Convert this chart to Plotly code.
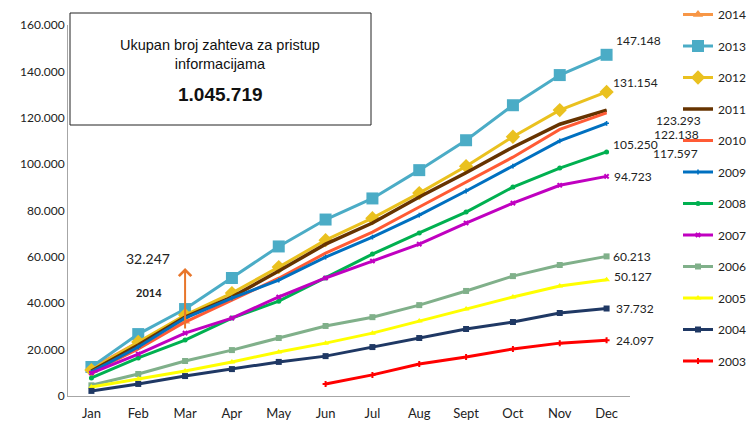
import plotly.graph_objects as go

# Data
MONTHS = ["Jan", "Feb", "Mar", "Apr", "May", "Jun", "Jul", "Aug", "Sept", "Oct", "Nov", "Dec"]

Y2014 = [12100, 23300, 32247]
Y2013 = [12500, 26700, 37500, 50900, 64500, 76100, 85200, 97400, 110300, 125400, 138400, 147148]
Y2012 = [11200, 23300, 34900, 44400, 55600, 67200, 76700, 87500, 99100, 111800, 123300, 131154]
Y2011 = [10800, 22000, 34000, 42700, 53900, 65500, 74600, 85800, 96300, 107300, 117200, 123293]
Y2010 = [10300, 20300, 31900, 41400, 50800, 61600, 70700, 81500, 92200, 103000, 115000, 122138]
Y2009 = [10300, 21100, 33600, 42200, 50000, 59900, 68500, 78000, 88400, 99100, 110000, 117597]
Y2008 = [7800, 16400, 24100, 33600, 40900, 50900, 61200, 70300, 79300, 90100, 98300, 105250]
Y2007 = [9900, 18100, 27100, 33600, 42700, 50900, 58200, 65500, 74600, 83200, 90900, 94723]
Y2006 = [4600, 9500, 15100, 19800, 25000, 30200, 34000, 39200, 45300, 51700, 56500, 60213]
Y2005 = [3900, 7300, 10800, 14700, 19000, 22800, 27100, 32300, 37500, 42700, 47400, 50127]
Y2004 = [2200, 5200, 8600, 11600, 14700, 17200, 21100, 25000, 28900, 31900, 35800, 37732]
Y2003 = [None, None, None, None, None, 5200, 9100, 13800, 16800, 20300, 22800, 24097]

TOTAL_LABEL = "1.045.719"
MAR_2014_LABEL = "32.247"

# name, values, colour, marker symbol, marker size, line width
SERIES = [
    ("2014", Y2014, "#F79646", "triangle-up", 9, 3),
    ("2013", Y2013, "#4BACC6", "square", 12, 3),
    ("2012", Y2012, "#EAC11F", "diamond", 11, 3),
    ("2011", Y2011, "#663300", "circle", 1, 3.5),
    ("2010", Y2010, "#FF5B35", "circle", 1, 3),
    ("2009", Y2009, "#0070C0", "cross", 4, 3),
    ("2008", Y2008, "#00B050", "circle", 5, 3),
    ("2007", Y2007, "#C000C0", "x", 5, 3),
    ("2006", Y2006, "#80B08A", "square", 6, 3),
    ("2005", Y2005, "#FFFF00", "triangle-up", 6, 3),
    ("2004", Y2004, "#1F3864", "square", 6, 3),
    ("2003", Y2003, "#FF0000", "cross", 5, 3),
]

# Dec value labels: (value, xshift px, yshift px)
END_LABELS = [
    (147148, 7, 14), (131154, 4, 9), (123293, 47, -10), (122138, 45, -22),
    (117597, 44, -30), (105250, 4, 7), (94723, 5, 0), (60213, 4, 0),
    (50127, 5, 3), (37732, 7, 0), (24097, 7, 0),
]

FONT = "Lato"

# Plot area in pixels
L, R, T, B = 68, 630, 25, 396
W, H = 749, 428
YMAX = 160000


def px_x(px):
    return (px - L) / (R - L)


def px_y(py):
    return (B - py) / (B - T)


def val_y(py):
    return (B - py) / (B - T) * YMAX


def fmt(v):
    return f"{v:,}".replace(",", ".")


fig = go.Figure()
for i, (name, vals, color, sym, msize, lw) in enumerate(SERIES):
    fig.add_trace(go.Scatter(
        x=MONTHS[:len(vals)], y=vals, name=name, mode="lines+markers",
        line=dict(color=color, width=lw),
        marker=dict(symbol=sym, size=msize, color=color,
                    line=dict(width=0)),
        legendgroup=f"g{i}", connectgaps=False,
    ))

for v, dx, dy in END_LABELS:
    fig.add_annotation(x="Dec", y=v, text=fmt(v), showarrow=False,
                       xanchor="left", yanchor="middle", xshift=dx, yshift=dy,
                       font=dict(family=FONT, size=12, color="#222"))

# 2014 arrow and labels
fig.add_annotation(x=2, y=val_y(268), ax=2, ay=val_y(330), axref="x", ayref="y",
                   text="", showarrow=True, arrowhead=4, arrowsize=1.2,
                   arrowwidth=2, arrowcolor="#E8762B")
fig.add_annotation(x=px_x(148), y=px_y(258), xref="paper", yref="paper",
                   text=MAR_2014_LABEL, showarrow=False,
                   xanchor="center", yanchor="middle",
                   font=dict(family=FONT, size=14, color="#222"))
fig.add_annotation(x=px_x(149), y=px_y(292), xref="paper", yref="paper",
                   text="<b>2014</b>", showarrow=False,
                   xanchor="center", yanchor="middle",
                   font=dict(family=FONT, size=11, color="#222"))

# Total box
fig.add_shape(type="rect", xref="paper", yref="paper",
              x0=px_x(70), x1=px_x(371), y0=px_y(125), y1=px_y(13),
              line=dict(color="#222", width=1), fillcolor="white", layer="above")
fig.add_annotation(x=px_x(220), y=px_y(54), xref="paper", yref="paper",
                   text="Ukupan broj zahteva za pristup<br>informacijama",
                   showarrow=False, align="center",
                   xanchor="center", yanchor="middle",
                   font=dict(family="Liberation Sans", size=14.5, color="#111"))
fig.add_annotation(x=px_x(220), y=px_y(95), xref="paper", yref="paper",
                   text=f"<b>{TOTAL_LABEL}</b>", showarrow=False,
                   xanchor="center", yanchor="middle",
                   font=dict(family="Liberation Sans", size=19, color="#111"))

fig.update_layout(
    width=W, height=H,
    margin=dict(l=L, r=W - R, t=T, b=H - B, autoexpand=False),
    separators=",.",
    plot_bgcolor="white", paper_bgcolor="white",
    font=dict(family=FONT, size=12, color="#222"),
    xaxis=dict(categoryorder="array", categoryarray=MONTHS, showgrid=False,
               showline=True, linecolor="#A6A6A6", linewidth=1, ticks="",
               tickfont=dict(size=13), range=[-0.5, 11.5], automargin=False,
               ticklabelstandoff=5),
    yaxis=dict(range=[0, YMAX], dtick=20000, tickformat=",d", showgrid=False,
               showline=True, linecolor="#A6A6A6", linewidth=1, ticks="",
               zeroline=False, tickfont=dict(size=12), automargin=False),
    legend=dict(xref="container", yref="container", x=678 / W, y=1.039,
                xanchor="left", yanchor="top", maxheight=1.0,
                tracegroupgap=12.5, font=dict(size=12), itemwidth=30,
                bgcolor="rgba(0,0,0,0)"),
)

fig.write_html("out.html", post_script="document.body.style.margin='0';",
               config={"displayModeBar": False})
